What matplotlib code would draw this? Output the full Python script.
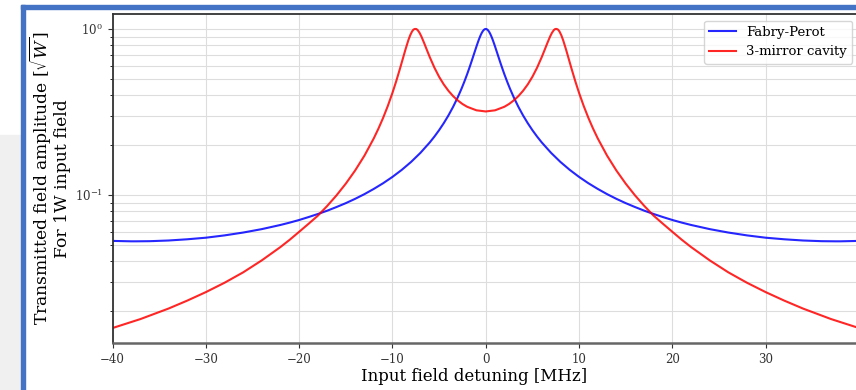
import matplotlib
matplotlib.use("Agg")
import matplotlib.pyplot as plt
from matplotlib.patches import Rectangle

plt.rcParams['font.family'] = ['DejaVu Serif']
plt.rcParams['mathtext.fontset'] = 'dejavuserif'

# both curves are symmetric about zero detuning: values read for detuning >= 0 [MHz]
fp_half_detuning = [0, 0.1, 0.2, 0.3, 0.4, 0.5, 0.6, 0.7, 0.8, 0.9, 1.0, 1.2, 1.4, 1.6, 1.8,
                    2.0, 2.3, 2.6, 3.0, 3.5, 4, 4.5, 5, 5.5, 6, 7, 8, 9, 10, 11, 12, 13, 14,
                    15, 16, 17, 18, 19, 20, 21, 22, 24, 26, 28, 30, 32, 34, 36, 37.5, 38, 40]
fp_half_amp = [1.0, 0.9969, 0.9876, 0.9727, 0.9530, 0.9293, 0.9026, 0.8739, 0.8439, 0.8134,
               0.7829, 0.7238, 0.6687, 0.6184, 0.5733, 0.5329, 0.4805, 0.4363, 0.3876, 0.3394,
               0.3013, 0.2708, 0.2457, 0.2249, 0.2073, 0.1794, 0.1582, 0.1417, 0.1285, 0.1177,
               0.1088, 0.1012, 0.0948, 0.0893, 0.0846, 0.0804, 0.0768, 0.0736, 0.0707, 0.0682,
               0.0660, 0.0623, 0.0594, 0.0571, 0.0553, 0.0541, 0.0532, 0.0527, 0.0526, 0.0526,
               0.0529]

cav3_half_detuning = [0, 1, 2, 2.5, 3, 3.5, 4, 4.5, 5, 5.5, 6, 6.3, 6.6, 6.9, 7.1, 7.3, 7.45,
                      7.6, 7.75, 7.9, 8.1, 8.3, 8.6, 8.9, 9.2, 9.6, 10, 10.5, 11, 11.5, 12, 13,
                      14, 15, 16, 17, 18, 19, 20, 21, 22, 24, 26, 28, 30, 32, 34, 37, 40]
cav3_half_amp = [0.3185, 0.3236, 0.3400, 0.3534, 0.3711, 0.3941, 0.4242, 0.4634, 0.5152,
                 0.5844, 0.6767, 0.7451, 0.8220, 0.9014, 0.9490, 0.9850, 0.9995, 1.0, 0.9907,
                 0.9657, 0.9158, 0.8537, 0.7533, 0.6580, 0.5747, 0.4835, 0.4119, 0.3433,
                 0.2913, 0.2511, 0.2193, 0.1726, 0.1404, 0.1170, 0.0994, 0.0858, 0.0750,
                 0.0670, 0.0600, 0.0538, 0.0486, 0.0404, 0.0342, 0.0296, 0.0260, 0.0231,
                 0.0207, 0.0179, 0.0158]


def mirror(det, amp):
    return ([-d for d in det[:0:-1]] + det, amp[:0:-1] + amp)


fp_detuning, fp_amp = mirror(fp_half_detuning, fp_half_amp)
cav3_detuning, cav3_amp = mirror(cav3_half_detuning, cav3_half_amp)

W, H = 856, 390
fig = plt.figure(figsize=(W / 100, H / 100), dpi=100)

# screenshot frame around the figure
fig.patches.append(Rectangle((0, 0), 21 / W, (H - 135) / H, transform=fig.transFigure,
                             color='#f0f0f0', zorder=0))
fig.patches.append(Rectangle((21 / W, 0), 4 / W, (H - 5) / H, transform=fig.transFigure,
                             color='#4472c4', zorder=1))
fig.patches.append(Rectangle((21 / W, (H - 9) / H), 1, 4 / H, transform=fig.transFigure,
                             color='#4472c4', zorder=1))

ax = fig.add_axes([112.5 / W, 1 - 343 / H, 746.5 / W, 329 / H])
ax.plot(fp_detuning, fp_amp, color='blue', alpha=0.85, lw=1.5, label='Fabry-Perot')
ax.plot(cav3_detuning, cav3_amp, color='red', alpha=0.85, lw=1.5, label='3-mirror cavity')
ax.set_yscale('log')
ax.set_xlim(-40, 40)
ax.set_xticks(range(-40, 31, 10))
ax.grid(True, which='both', color='#dddddd', lw=0.8)

ax.set_xlabel('Input field detuning [MHz]', fontsize=12)
ax.xaxis.set_label_coords((474 - 112.5) / 746.5, -0.075)
ax.set_ylabel('Transmitted field amplitude [$\\sqrt{W}$]\nFor 1W input field', fontsize=12.3,
              linespacing=0.95)
ax.yaxis.set_label_coords(-0.056, 0.5)
ax.tick_params(labelsize=8.5, colors='#333333')
ax.tick_params(which='minor', length=2)
for s in ['left', 'top']:
    ax.spines[s].set_color('#333333')
    ax.spines[s].set_linewidth(1.3)
ax.spines['bottom'].set_color('#666666')
ax.spines['bottom'].set_linewidth(1.8)

ax.legend(loc='upper right', fontsize=9.5)

fig.savefig('out.png', dpi=100)
